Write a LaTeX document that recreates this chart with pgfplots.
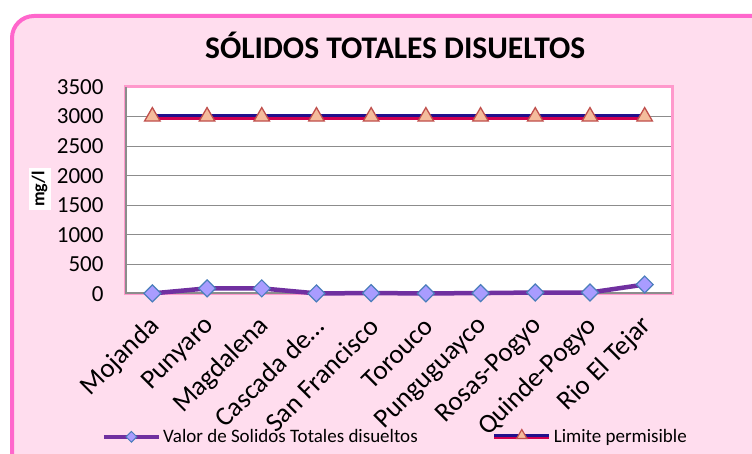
\documentclass[border=0pt]{standalone}
\usepackage{pgfplots}
\pgfplotsset{compat=1.18}
\usepackage{fontspec}
\setmainfont{Carlito}
\definecolor{framepink}{HTML}{FF66CC}
\definecolor{bgpink}{HTML}{FFDDEE}
\definecolor{plotpink}{HTML}{FF99CC}
\definecolor{serpurple}{HTML}{7030A0}
\definecolor{diafill}{HTML}{A99CFF}
\definecolor{diadraw}{HTML}{4A7EBB}
\definecolor{limblue}{HTML}{22108C}
\definecolor{limred}{HTML}{D0004F}
\definecolor{trifill}{HTML}{F4BC9C}
\definecolor{tridraw}{HTML}{C0504D}
\definecolor{gridgray}{HTML}{8C8C8C}
\pgfplotsset{
  dialegend/.style={legend image code/.code={\draw[serpurple, line width=4.5bp] (0bp,0bp) -- (55bp,0bp); \draw[mark=square*, mark size=3.8bp, mark options={rotate=45, fill=diafill, draw=diadraw, line width=1bp}] plot coordinates {(27.5bp,0bp)};}},
  limlegend/.style={legend image code/.code={\draw[limred, line width=5bp] (0bp,-1bp) -- (55bp,-1bp); \draw[limblue, line width=3bp] (0bp,0.3bp) -- (55bp,0.3bp); \draw[mark=triangle*, mark size=6bp, mark options={fill=trifill, draw=tridraw, line width=1.2bp}] plot coordinates {(27.5bp,0bp)};}},
}
\begin{document}
\begin{tikzpicture}[x=1bp,y=1bp]
\clip (0,0) rectangle (752,454);
\fill[white] (0,0) rectangle (752,454);
\draw[framepink, line width=4bp, fill=bgpink, rounded corners=22bp] (12,-30) rectangle (790,438);
\begin{axis}[
  at={(125bp,160bp)}, anchor=south west,
  scale only axis, width=547bp, height=207bp,
  xmin=-0.5, xmax=9.5, ymin=0, ymax=3500,
  axis background/.style={fill=white},
  axis line style={draw=none},
  xtick=data,
  xticklabels={Mojanda,Punyaro,Magdalena,Cascada de\ldots,San Francisco,Torouco,Punguguayco,Rosas-Pogyo,Quinde-Pogyo,Rio El Tejar},
  xticklabel style={yshift=-28bp, xshift=3bp, anchor=east, inner sep=0pt, rotate=45, font=\fontsize{27bp}{30bp}\selectfont},
  ytick={0,500,...,3500},
  yticklabel style={font=\fontsize{23bp}{25bp}\selectfont, xshift=-18bp},
  /pgf/number format/assume math mode=true,
  /pgf/number format/1000 sep={},
  major tick length=0pt,
  ymajorgrids, grid style={gridgray, line width=1.2bp},
  title={\textbf{SÓLIDOS TOTALES DISUELTOS}},
  title style={font=\fontsize{31.5bp}{34bp}\selectfont, at={(axis description cs:0.494,1.17)}, anchor=center},
  ylabel={\textbf{mg/l}},
  ylabel style={font=\fontsize{18bp}{20bp}\selectfont, fill=white, inner sep=3bp, at={(axis description cs:-0.156,0.507)}, anchor=center, rotate=0},
  legend columns=2,
  legend style={draw=none, fill=none, font=\fontsize{19bp}{21bp}\selectfont, at={(axis description cs:0.494,-0.69)}, anchor=center, /tikz/every even column/.append style={column sep=72bp}, inner sep=0pt},
  legend cell align=left,
  clip=false,
]
\draw[plotpink, line width=3bp] (rel axis cs:0,0) rectangle (rel axis cs:1,1);
\draw[gridgray, line width=1.5bp] ([xshift=1bp]rel axis cs:0,0) -- ([xshift=1bp]rel axis cs:0,1);
\draw[gridgray, line width=1.5bp] ([yshift=1bp]rel axis cs:0,0) -- ([yshift=1bp]rel axis cs:1,0);

\addplot[serpurple, line width=4.5bp, mark=square*, mark size=6bp,
  mark options={rotate=45, fill=diafill, draw=diadraw, line width=1.2bp},
  dialegend]
  coordinates {(0,10)(1,95)(2,95)(3,10)(4,15)(5,10)(6,15)(7,25)(8,25)(9,160)};
\addlegendentry{Valor de Solidos Totales disueltos}

\addplot[limred, line width=6bp, forget plot] coordinates {(0,3000)(1,3000)(2,3000)(3,3000)(4,3000)(5,3000)(6,3000)(7,3000)(8,3000)(9,3000)};
\addplot[limblue, line width=3.5bp, yshift=1.3bp, mark=triangle*, mark size=9bp,
  mark options={fill=trifill, draw=tridraw, line width=1.3bp, yshift=-1.3bp},
  limlegend]
  coordinates {(0,3000)(1,3000)(2,3000)(3,3000)(4,3000)(5,3000)(6,3000)(7,3000)(8,3000)(9,3000)};
\addlegendentry{Limite permisible}
\end{axis}
\end{tikzpicture}
\end{document}
